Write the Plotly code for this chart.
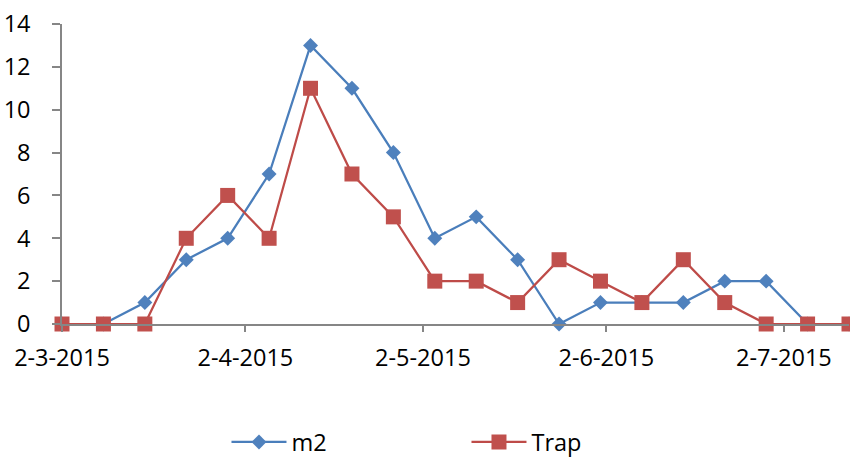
import plotly.graph_objects as go

dates = ["2015-03-02", "2015-03-09", "2015-03-16", "2015-03-23", "2015-03-30",
         "2015-04-06", "2015-04-13", "2015-04-20", "2015-04-27", "2015-05-04",
         "2015-05-11", "2015-05-18", "2015-05-25", "2015-06-01", "2015-06-08",
         "2015-06-15", "2015-06-22", "2015-06-29", "2015-07-06", "2015-07-13"]
m2 = [0, 0, 1, 3, 4, 7, 13, 11, 8, 4, 5, 3, 0, 1, 1, 1, 2, 2, 0, 0]
trap = [0, 0, 0, 4, 6, 4, 11, 7, 5, 2, 2, 1, 3, 2, 1, 3, 1, 0, 0, 0]
tick_dates = ["2015-03-02", "2015-04-02", "2015-05-02", "2015-06-02", "2015-07-02"]
tick_labels = ["2-3-2015", "2-4-2015", "2-5-2015", "2-6-2015", "2-7-2015"]
y_ticks = [0, 2, 4, 6, 8, 10, 12, 14]

FONT = "Open Sans"
AXIS = "#868686"
FS = 23.5

fig = go.Figure()
fig.add_trace(go.Scatter(
    x=dates, y=m2, name="m2", mode="lines+markers",
    line=dict(color="#4A7EBB", width=2.25),
    marker=dict(symbol="diamond", size=11.5, color="#4F81BD"),
    cliponaxis=False))
fig.add_trace(go.Scatter(
    x=dates, y=trap, name="Trap", mode="lines+markers",
    line=dict(color="#BE4B48", width=2.25),
    marker=dict(symbol="square", size=15, color="#C0504D"),
    cliponaxis=False))

fig.update_layout(
    width=850, height=457,
    margin=dict(l=62, r=1, t=24, b=133, autoexpand=False),
    paper_bgcolor="white", plot_bgcolor="white",
    font=dict(family=FONT, size=FS, color="black"),
    showlegend=True,
    legend=dict(orientation="h", x=0.209, y=-0.394, xanchor="left", yanchor="middle",
                entrywidth=170, entrywidthmode="pixels", itemwidth=55,
                font=dict(family=FONT, size=FS, color="black"),
                bgcolor="rgba(0,0,0,0)"),
    xaxis=dict(type="date", range=["2015-03-02", "2015-07-13"], automargin=False,
               tickmode="array", tickvals=tick_dates, ticktext=tick_labels,
               showgrid=False, zeroline=False,
               showline=True, linecolor=AXIS, linewidth=1.5,
               ticks="outside", ticklen=6, tickcolor=AXIS, tickwidth=1.5,
               ticklabelstandoff=6,
               tickfont=dict(family=FONT, size=FS, color="black")),
    yaxis=dict(range=[0, 14], tickmode="array", tickvals=y_ticks, automargin=False,
               showgrid=False, zeroline=False,
               showline=True, linecolor=AXIS, linewidth=1.5,
               ticks="outside", ticklen=8, tickcolor=AXIS, tickwidth=1.5,
               ticklabelstandoff=17,
               tickfont=dict(family=FONT, size=FS, color="black")),
)

fig.write_html("out.html", config={"displayModeBar": False},
               post_script="document.body.style.margin='0';document.body.style.overflow='hidden';")
